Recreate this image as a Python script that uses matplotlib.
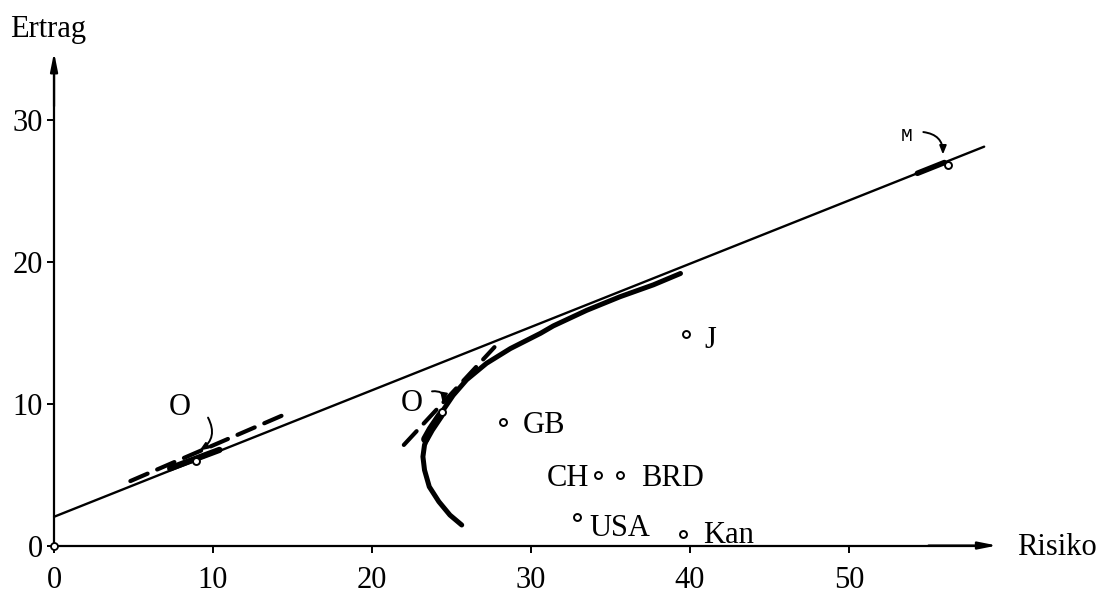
import matplotlib.pyplot as plt

# Kapitalmarktlinie and Effizienzkurve
cml_x = [0.0, 58.5]
cml_y = [2.03, 28.15]

frontier_x = [25.64, 24.9, 24.2, 23.6, 23.3, 23.2, 23.3, 23.6, 24.0, 24.4, 25.1,
              25.95, 27.2, 28.7, 30.6, 31.4, 33.5, 35.6, 37.7, 39.4]
frontier_y = [1.45, 2.15, 3.1, 4.15, 5.33, 6.27, 7.1, 7.9, 8.7, 9.44, 10.6,
              11.7, 12.86, 13.9, 14.98, 15.5, 16.6, 17.56, 18.4, 19.2]

# heavy ink blobs around the tangency points
blob_left_x = [7.3, 10.4]
blob_left_y = [5.45, 6.75]
blob_right_x = [23.35, 23.7, 24.3]
blob_right_y = [7.5, 8.2, 9.2]
blob_m_x = [54.3, 56.0]
blob_m_y = [26.27, 27.03]

tangent_left_x = [4.8, 14.4]
tangent_left_y = [4.55, 9.2]
tangent_right_x = [22.0, 27.7]
tangent_right_y = [7.1, 14.0]

# optimal portfolios O, O and market portfolio M
opt_x = [8.9, 24.4, 56.2]
opt_y = [5.95, 9.4, 26.85]

countries = ['GB', 'CH', 'BRD', 'USA', 'Kan', 'J']
risk = [28.26, 34.2, 35.6, 32.87, 39.58, 39.75]
ret = [8.74, 4.98, 4.98, 2.03, 0.81, 14.9]
# label offsets in points (dx, dy, horizontal alignment)
label_pos = [(14, 0, 'left'), (-6, 0, 'right'), (15, 0, 'left'),
             (9, -6, 'left'), (14, 1.5, 'left'), (13.5, -2, 'left')]

x_ticks = [0, 10, 20, 30, 40, 50]
y_ticks = [0, 10, 20, 30]

FS = 22


def main() -> None:
    plt.rcParams['font.family'] = 'Liberation Serif'
    fig = plt.figure(figsize=(11.12, 5.94), dpi=100)
    ax = fig.add_axes([0, 0, 1, 1])
    ax.set_xlim(-3.40, 66.54)
    ax.set_ylim(-3.42, 38.5)

    # axes through the origin
    for side in ['top', 'right']:
        ax.spines[side].set_visible(False)
    ax.spines['left'].set_position(('data', 0))
    ax.spines['bottom'].set_position(('data', 0))
    ax.spines['left'].set_bounds(0, 34.0)
    ax.spines['bottom'].set_bounds(0, 58.5)
    for side in ['left', 'bottom']:
        ax.spines[side].set_linewidth(1.6)
    ax.set_xticks(x_ticks)
    ax.set_yticks(y_ticks)
    ax.tick_params(axis='x', length=5, width=1.4, pad=10, labelsize=FS)
    ax.tick_params(axis='y', length=5, width=1.4, pad=3, labelsize=FS)

    arrow = dict(arrowstyle='-|>,head_length=1.1,head_width=0.22', lw=1.6, color='k',
                 shrinkA=0, shrinkB=0)
    ax.annotate('', xy=(59.3, 0), xytext=(55, 0), arrowprops=arrow)
    ax.annotate('', xy=(0, 34.8), xytext=(0, 31), arrowprops=arrow)
    ax.text(60.6, 0.1, 'Risiko', fontsize=FS, va='center_baseline', ha='left')
    ax.text(-2.75, 35.9, 'Ertrag', fontsize=FS, va='baseline', ha='left')
    ax.plot([0], [0], 'o', ms=5, mfc='white', mec='k', mew=1.3, clip_on=False, zorder=5)

    # capital market line and efficient frontier
    ax.plot(cml_x, cml_y, color='k', lw=1.7, solid_capstyle='round')
    ax.plot(frontier_x, frontier_y, color='k', lw=3.6, solid_capstyle='round',
            solid_joinstyle='round')
    ax.plot(blob_left_x, blob_left_y, color='k', lw=4.5, solid_capstyle='round')
    ax.plot(blob_right_x, blob_right_y, color='k', lw=6, solid_capstyle='round')
    ax.plot(blob_m_x, blob_m_y, color='k', lw=4, solid_capstyle='round')
    ax.plot(tangent_left_x, tangent_left_y, color='k', lw=3.0, dashes=(4.5, 2.5),
            dash_capstyle='round')
    ax.plot(tangent_right_x, tangent_right_y, color='k', lw=3.0, dashes=(4.5, 2.5),
            dash_capstyle='round')

    ax.plot(opt_x, opt_y, 'o', ms=5, mfc='white', mec='k', mew=1.4, zorder=4)
    curl = dict(arrowstyle='-|>,head_length=0.5,head_width=0.2', lw=1.4, color='k')
    ax.text(7.9, 10.0, 'O', fontsize=FS, ha='center', va='center_baseline')
    ax.annotate('', xy=(9.0, 6.6), xytext=(9.6, 9.2),
                arrowprops=dict(curl, connectionstyle='arc3,rad=-0.5'))
    ax.text(22.5, 10.3, 'O', fontsize=FS, ha='center', va='center_baseline')
    ax.annotate('', xy=(24.4, 9.9), xytext=(23.6, 10.85),
                arrowprops=dict(curl, connectionstyle='arc3,rad=-0.8'))
    ax.text(53.6, 29.0, 'M', fontsize=14, ha='center', va='center_baseline',
            family='Liberation Mono')
    ax.annotate('', xy=(55.9, 27.4), xytext=(54.5, 29.2),
                arrowprops=dict(curl, connectionstyle='arc3,rad=-0.5'))

    # country indices
    ax.plot(risk, ret, 'o', ms=5, mfc='white', mec='k', mew=1.4, zorder=4)
    for name, x, y, (dx, dy, ha) in zip(countries, risk, ret, label_pos):
        ax.annotate(name, (x, y), xytext=(dx, dy), textcoords='offset points',
                    fontsize=FS, ha=ha, va='center_baseline')

    fig.savefig('out.png', dpi=100, facecolor='white')


if __name__ == '__main__':
    main()
